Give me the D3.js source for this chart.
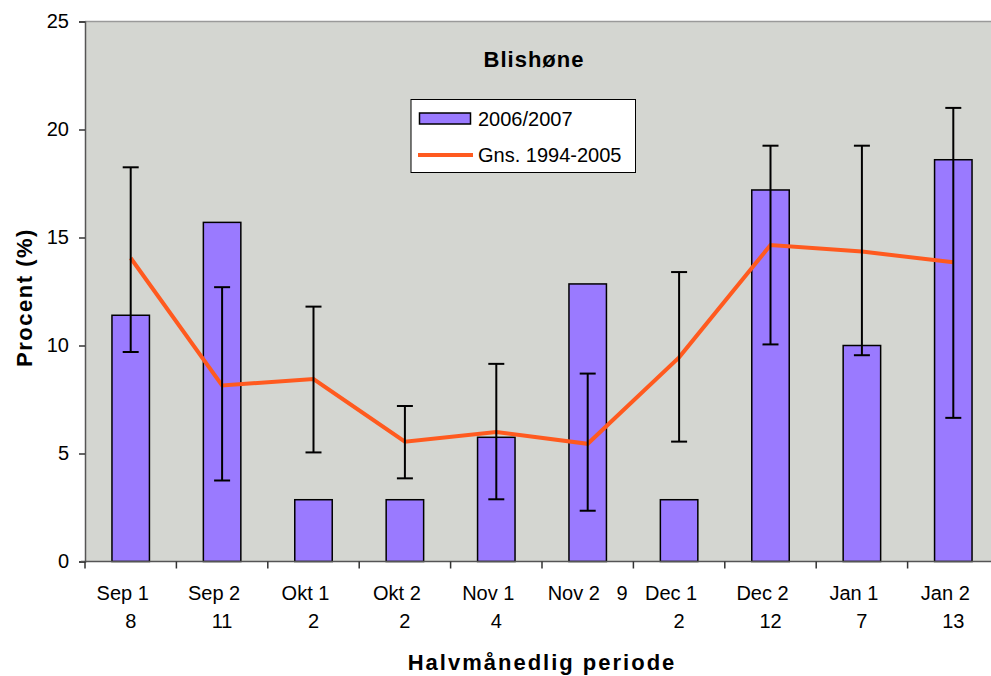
<!DOCTYPE html>
<html>
<head>
<meta charset="utf-8">
<script src="https://cdn.jsdelivr.net/npm/d3@7"></script>
<style>
  body { margin: 0; background: #fff; }
  text { font-family: "Liberation Sans", Arial, sans-serif; fill: #000; }
</style>
</head>
<body>
<div id="chart"></div>
<script>
// chart data
var periods = ['Sep 1', 'Sep 2', 'Okt 1', 'Okt 2', 'Nov 1', 'Nov 2   9', 'Dec 1', 'Dec 2', 'Jan 1', 'Jan 2'];
var counts = ['8', '11', '2', '2', '4', '', '2', '12', '7', '13'];
var season = [11.4, 15.7, 2.86, 2.86, 5.75, 12.85, 2.86, 17.2, 10.0, 18.6];
var average = [14.05, 8.15, 8.45, 5.55, 6.0, 5.45, 9.45, 14.65, 14.35, 13.85];
var errHigh = [18.25, 12.7, 11.8, 7.2, 9.15, 8.7, 13.4, 19.25, 19.25, 21.0];
var errLow = [9.7, 3.75, 5.05, 3.85, 2.88, 2.35, 5.55, 10.05, 9.55, 6.65];
var yTicks = [0, 5, 10, 15, 20, 25];

var width = 991, height = 676;
var plotLeft = 85, plotRight = 999, plotTop = 21.5, plotBottom = 561.5;

var barColor = '#9a7aff';
var lineColor = '#ff5a1f';
var bgColor = '#d4d6d1';

var svg = d3.select('#chart')
  .append('svg')
    .attr('width', width)
    .attr('height', height);

var x = d3.scaleBand()
    .domain(d3.range(periods.length))
    .range([plotLeft, plotRight]);
var y = d3.scaleLinear()
    .domain([0, 25])
    .range([plotBottom, plotTop]);

// plot background
svg.append('rect')
    .attr('x', plotLeft)
    .attr('y', plotTop)
    .attr('width', plotRight - plotLeft)
    .attr('height', plotBottom - plotTop)
    .style('fill', bgColor);
svg.append('line')
    .attr('x1', plotLeft).attr('x2', plotRight)
    .attr('y1', plotTop).attr('y2', plotTop)
    .style('stroke', '#9a9a9a')
    .style('stroke-width', 1.5);

// bars
var barW = x.bandwidth() * 0.41;
svg.selectAll('rect.bar')
  .data(season)
  .enter()
  .append('rect')
    .attr('class', 'bar')
    .attr('x', function(d, i) { return x(i) + x.bandwidth() / 2 - barW / 2; })
    .attr('y', function(d) { return y(d); })
    .attr('width', barW)
    .attr('height', function(d) { return y(0) - y(d); })
    .style('fill', barColor)
    .style('stroke', '#000')
    .style('stroke-width', 1.5);

// average line
var line = d3.line()
    .x(function(d, i) { return x(i) + x.bandwidth() / 2; })
    .y(function(d) { return y(d); });
svg.append('path')
    .datum(average)
    .attr('d', line)
    .style('fill', 'none')
    .style('stroke', lineColor)
    .style('stroke-width', 4)
    .style('stroke-linejoin', 'miter');

// error bars
var cap = 8;
var errs = svg.selectAll('g.err')
  .data(periods)
  .enter()
  .append('g')
    .attr('class', 'err')
    .style('stroke', '#000')
    .style('stroke-width', 2);
errs.append('line')
    .attr('x1', function(d, i) { return x(i) + x.bandwidth() / 2; })
    .attr('x2', function(d, i) { return x(i) + x.bandwidth() / 2; })
    .attr('y1', function(d, i) { return y(errHigh[i]); })
    .attr('y2', function(d, i) { return y(errLow[i]); });
errs.append('line')
    .attr('x1', function(d, i) { return x(i) + x.bandwidth() / 2 - cap; })
    .attr('x2', function(d, i) { return x(i) + x.bandwidth() / 2 + cap; })
    .attr('y1', function(d, i) { return y(errHigh[i]); })
    .attr('y2', function(d, i) { return y(errHigh[i]); });
errs.append('line')
    .attr('x1', function(d, i) { return x(i) + x.bandwidth() / 2 - cap; })
    .attr('x2', function(d, i) { return x(i) + x.bandwidth() / 2 + cap; })
    .attr('y1', function(d, i) { return y(errLow[i]); })
    .attr('y2', function(d, i) { return y(errLow[i]); });

// y axis
var yAxis = svg.append('g')
    .attr('transform', 'translate(' + plotLeft + ',0)')
    .call(d3.axisLeft(y).tickValues(yTicks).tickSize(6).tickPadding(10));
yAxis.select('.domain').style('stroke', '#555').style('stroke-width', 1.5);
yAxis.selectAll('.tick line').style('stroke', '#333').style('stroke-width', 1.5);
yAxis.selectAll('.tick text').style('font-size', '20px').style('font-family', '"Liberation Sans", Arial, sans-serif');

// x axis: ticks at band edges
var edges = d3.range(periods.length + 1).map(function(i) { return plotLeft + i * x.step(); });
svg.append('line')
    .attr('x1', plotLeft - 4).attr('x2', plotRight)
    .attr('y1', plotBottom).attr('y2', plotBottom)
    .style('stroke', '#555')
    .style('stroke-width', 1.5);
svg.selectAll('line.xtick')
  .data(edges)
  .enter()
  .append('line')
    .attr('class', 'xtick')
    .attr('x1', function(d) { return d; })
    .attr('x2', function(d) { return d; })
    .attr('y1', plotBottom)
    .attr('y2', plotBottom + 7)
    .style('stroke', '#333')
    .style('stroke-width', 1.5);

svg.selectAll('text.per')
  .data(periods)
  .enter()
  .append('text')
    .attr('class', 'per')
    .attr('x', function(d, i) { return x(i) + x.bandwidth() / 2 - (d.length > 6 ? 0 : 8); })
    .attr('y', 600)
    .attr('text-anchor', 'middle')
    .style('font-size', '20px')
    .style('white-space', 'pre')
    .text(function(d) { return d; });
svg.selectAll('text.cnt')
  .data(counts)
  .enter()
  .append('text')
    .attr('class', 'cnt')
    .attr('x', function(d, i) { return x(i) + x.bandwidth() / 2; })
    .attr('y', 628)
    .attr('text-anchor', 'middle')
    .style('font-size', '20px')
    .text(function(d) { return d; });

// titles
svg.append('text')
    .attr('x', 534)
    .attr('y', 67)
    .attr('text-anchor', 'middle')
    .style('font-size', '22px')
    .style('font-weight', 'bold')
    .style('letter-spacing', '1px')
    .text('Blishøne');
svg.append('text')
    .attr('x', (plotLeft + plotRight) / 2)
    .attr('y', 670)
    .attr('text-anchor', 'middle')
    .style('font-size', '22px')
    .style('font-weight', 'bold')
    .style('letter-spacing', '2px')
    .text('Halvmånedlig periode');
svg.append('text')
    .attr('transform', 'translate(32,' + ((plotTop + plotBottom) / 2 + 6) + ') rotate(-90)')
    .attr('text-anchor', 'middle')
    .style('font-size', '22px')
    .style('font-weight', 'bold')
    .style('letter-spacing', '1.5px')
    .text('Procent (%)');

// legend
var legend = svg.append('g');
legend.append('rect')
    .attr('x', 411).attr('y', 99.5)
    .attr('width', 224.5).attr('height', 73)
    .style('fill', '#fff')
    .style('stroke', '#000')
    .style('stroke-width', 1);
legend.append('rect')
    .attr('x', 419.5).attr('y', 113)
    .attr('width', 51).attr('height', 11)
    .style('fill', barColor)
    .style('stroke', '#000')
    .style('stroke-width', 1.5);
legend.append('line')
    .attr('x1', 418).attr('x2', 473)
    .attr('y1', 155).attr('y2', 155)
    .style('stroke', lineColor)
    .style('stroke-width', 4);
legend.append('text')
    .attr('x', 478).attr('y', 125.5)
    .style('font-size', '20px')
    .text('2006/2007');
legend.append('text')
    .attr('x', 478).attr('y', 162)
    .style('font-size', '20px')
    .text('Gns. 1994-2005');
</script>
</body>
</html>
